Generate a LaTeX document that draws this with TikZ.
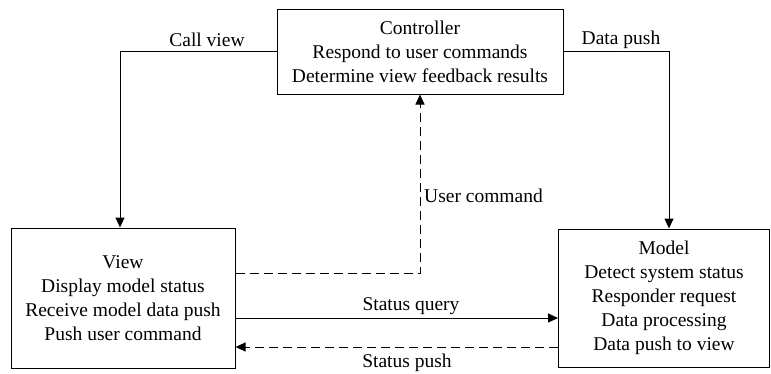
\documentclass[tikz,border=0pt]{standalone}
\usepackage{fontspec}
\setmainfont{Liberation Serif}
\usetikzlibrary{arrows.meta}
\begin{document}
\begin{tikzpicture}[x=1pt,y=-1pt,
  box/.style={draw,line width=1pt,rectangle,inner sep=0pt,align=center,
    font=\fontsize{19.5}{24}\selectfont},
  lbl/.style={font=\fontsize{19.5}{24}\selectfont,inner sep=0pt},
  conn/.style={line width=1pt,-{Triangle[length=10pt,width=9pt]}},
  dashconn/.style={conn,dash pattern=on 9pt off 5pt}]
\useasboundingbox (0,0) rectangle (771,373);
\node[box,minimum width=286pt,minimum height=85pt] (ctrl) at (420,51.5)
  {Controller\\Respond to user commands\\Determine view feedback results};
\node[box,minimum width=224pt,minimum height=140pt] (view) at (123,298)
  {View\\Display model status\\Receive model data push\\Push user command};
\node[box,minimum width=211pt,minimum height=138pt] (model) at (664,298)
  {Model\\Detect system status\\Responder request\\Data processing\\Data push to view};
\draw[conn] (ctrl.west) -| ([xshift=-3pt]view.north);
\draw[conn] (ctrl.east) -| ([xshift=5pt]model.north);
\draw[dashconn] ([yshift=25pt]view.east) -| (ctrl.south);
\coordinate (sq) at ([yshift=-20pt]view.east);
\draw[conn] (sq) -- (sq -| model.west);
\coordinate (sp) at ([yshift=-49pt]view.east);
\draw[dashconn] (sp -| model.west) -- (sp);
\node[lbl] (lcv) at (207,40) {Call view};
\node[lbl] (ldp) at (621,40) {Data push};
\node[lbl,anchor=west] (luc) at (424,196) {User command};
\node[lbl] (lsq) at (411,306) {Status query};
\node[lbl] (lsp) at (407,363) {Status push};
\end{tikzpicture}
\end{document}
